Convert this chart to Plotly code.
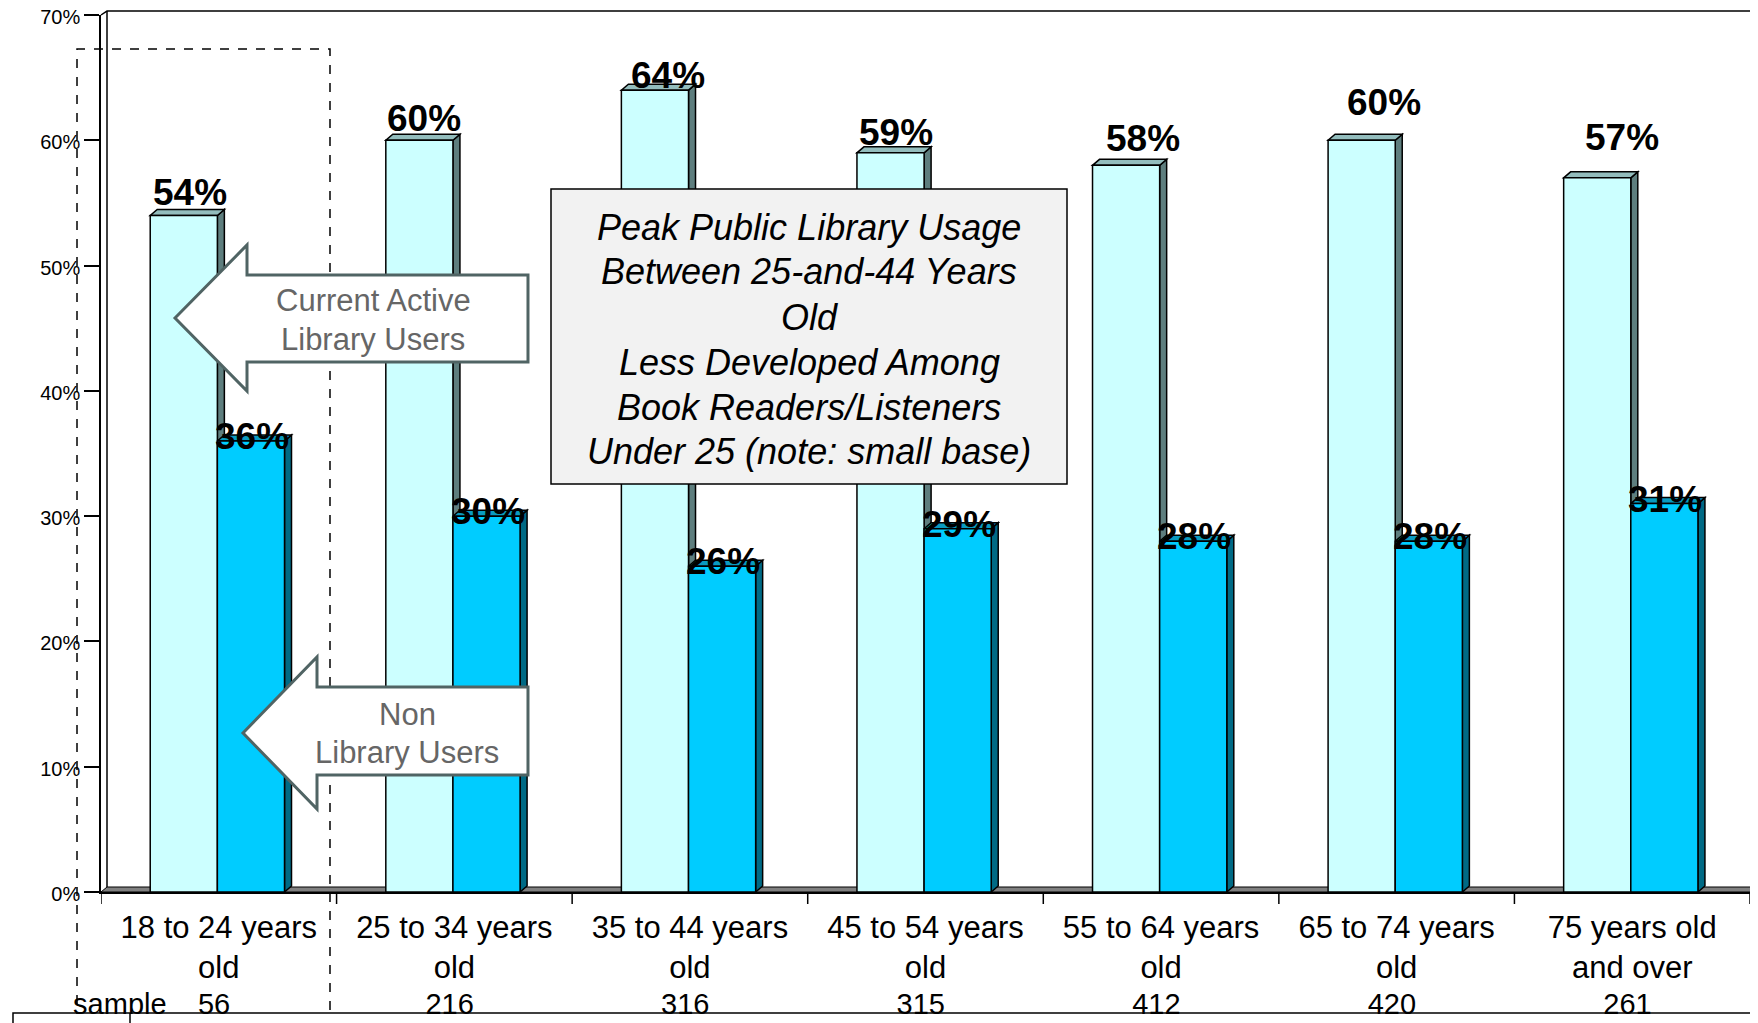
import plotly.graph_objects as go

categories = ["18 to 24 years<br>old", "25 to 34 years<br>old", "35 to 44 years<br>old",
              "45 to 54 years<br>old", "55 to 64 years<br>old", "65 to 74 years<br>old",
              "75 years old<br>and over"]
active_users = [54, 60, 64, 59, 58, 60, 57]
non_users = [36, 30, 26, 29, 28, 28, 31]
samples = [56, 216, 316, 315, 412, 420, 261]

box_lines = ["Peak Public Library Usage", "Between 25-and-44 Years", "Old",
             "Less Developed Among", "Book Readers/Listeners", "Under 25 (note: small base)"]

# label nudges (pixels) to mimic the original placement
active_dx = [6, 5, 13, 5, 17, 22, 25]
active_dy = [0, -1, -8, -2, 4, 15, 18]

# page has an 8px body margin, so the figure is drawn 8px in and down
OFF = 8
PW, PH = 1758, 1023
FW, FH = PW - OFF, PH - OFF
# plot area in page pixels
L, R, T, B = 101, 1750, 15, 892


def px(x):
    return (x - L) / (R - L)


def py(y):
    return (B - y) / (B - T)


def poly(points, close=True):
    p = "M " + " L ".join(f"{px(a):.5f},{py(b):.5f}" for a, b in points)
    return p + " Z" if close else p


bw = 0.285
shift = -0.006
dx = 7 / ((R - L) / 7)
dy = 6 / ((B - T) / 70)
xs = list(range(len(categories)))
x_act = [i - bw / 2 + shift for i in xs]
x_non = [i + bw / 2 + shift for i in xs]

fig = go.Figure()
fig.add_trace(go.Bar(x=x_act, y=active_users, width=bw, name="Current Active Library Users",
                     marker=dict(color="#CCFFFF", line=dict(color="black", width=1.5))))
fig.add_trace(go.Bar(x=x_non, y=non_users, width=bw, name="Non Library Users",
                     marker=dict(color="#00CCFF", line=dict(color="black", width=1.5))))
# invisible trace so the sample axis is drawn
fig.add_trace(go.Scatter(x=[-0.5, 6.5], y=[0, 0], xaxis="x2", mode="markers",
                         marker=dict(opacity=0), showlegend=False, hoverinfo="skip"))

line_k = dict(color="black", width=1.5)
shapes = []
# back wall and floor
shapes.append(dict(type="path", xref="paper", yref="paper", layer="below",
                   path=poly([(101, 15), (107, 11), (1770, 11)], close=False), line=line_k))
shapes.append(dict(type="path", xref="paper", yref="paper", layer="below",
                   path=poly([(107, 11), (107, 887)], close=False), line=line_k))
shapes.append(dict(type="path", xref="paper", yref="paper", layer="below",
                   path=poly([(1757, 11), (1757, 887)], close=False), line=line_k))
shapes.append(dict(type="path", xref="paper", yref="paper", layer="below",
                   path=poly([(101, 892), (1750, 892), (1757, 887), (107, 887)]),
                   fillcolor="#808080", line=dict(color="black", width=1)))


# 3D faces of the bars
def faces(xc, vals, top_col, side_col):
    out = []
    for x, v in zip(xc, vals):
        xl, xr = x - bw / 2, x + bw / 2
        out.append(dict(type="path", xref="x", yref="y", layer="below",
                        path=f"M {xr},0 L {xr + dx},{dy} L {xr + dx},{v + dy} L {xr},{v} Z",
                        fillcolor=side_col, line=line_k))
        out.append(dict(type="path", xref="x", yref="y", layer="below",
                        path=f"M {xl},{v} L {xr},{v} L {xr + dx},{v + dy} L {xl + dx},{v + dy} Z",
                        fillcolor=top_col, line=line_k))
    return out


shapes += faces(x_act, active_users, "#93BDBD", "#5E7E7E")
shapes += faces(x_non, non_users, "#0A9AC0", "#006A85")

# category boundary ticks
for i in range(len(categories) + 1):
    shapes.append(dict(type="line", xref="x", yref="paper", x0=i - 0.5, x1=i - 0.5,
                       y0=0, y1=-12 / (B - T), line=line_k))

# dashed highlight box
shapes.append(dict(type="path", xref="paper", yref="paper", layer="above",
                   path=poly([(77, 1040), (77, 49), (330, 49), (330, 1040)], close=False),
                   line=dict(color="black", width=1.5, dash="dash")))

# callout arrows
arrow_line = dict(color="#506464", width=3)
shapes.append(dict(type="path", xref="paper", yref="paper", layer="above",
                   path=poly([(175, 318), (247, 245), (247, 275), (528, 275), (528, 362),
                              (247, 362), (247, 391)]),
                   fillcolor="white", line=arrow_line))
shapes.append(dict(type="path", xref="paper", yref="paper", layer="above",
                   path=poly([(243, 733), (317, 657), (317, 687), (528, 687), (528, 775),
                              (317, 775), (317, 809)]),
                   fillcolor="white", line=arrow_line))

# text box
shapes.append(dict(type="rect", xref="paper", yref="paper", layer="above",
                   x0=px(551), x1=px(1067), y0=py(189), y1=py(484),
                   fillcolor="#F2F2F2", line=line_k))

# table edge at the bottom that clips the sample row
shapes.append(dict(type="rect", xref="paper", yref="paper", layer="above",
                   x0=px(0), x1=px(1770), y0=py(1014), y1=py(1040),
                   fillcolor="white", line=dict(width=0)))
shapes.append(dict(type="path", xref="paper", yref="paper", layer="above",
                   path=poly([(13, 1040), (13, 1013), (1755, 1013), (1755, 1040)], close=False),
                   line=line_k))
shapes.append(dict(type="path", xref="paper", yref="paper", layer="above",
                   path=poly([(130, 1013), (130, 1040)], close=False), line=line_k))

annotations = []
for i, v in enumerate(active_users):
    annotations.append(dict(x=x_act[i], y=v, xref="x", yref="y", text=f"<b>{v}%</b>",
                            showarrow=False, xanchor="center", yanchor="bottom",
                            xshift=active_dx[i], yshift=active_dy[i],
                            font=dict(size=37, color="black")))
for i, v in enumerate(non_users):
    annotations.append(dict(x=x_non[i], y=v, xref="x", yref="y", text=f"<b>{v}%</b>",
                            showarrow=False, xanchor="center", yanchor="bottom", xshift=1, yshift=-18,
                            font=dict(size=37, color="black")))


def text_lines(lines, cx, y0, step, size, color, italic=False):
    for k, s in enumerate(lines):
        annotations.append(dict(x=px(cx), y=py(y0 + k * step), xref="paper", yref="paper",
                                xanchor="center", yanchor="middle", showarrow=False,
                                text=f"<i>{s}</i>" if italic else s,
                                font=dict(size=size, color=color)))


text_lines(box_lines, 809, 227, 45, 36, "black", italic=True)
text_lines(["Current Active", "Library Users"], 373, 300, 39, 31, "#666666")
text_lines(["Non", "Library Users"], 407, 714, 38, 31, "#666666")

fig.update_layout(
    width=FW, height=FH, autosize=False,
    margin=dict(l=L - OFF, r=FW - (R - OFF), t=T - OFF, b=FH - (B - OFF), autoexpand=False),
    paper_bgcolor="white", plot_bgcolor="white",
    font=dict(family="Liberation Sans, Arial, sans-serif", color="black"),
    barmode="overlay", showlegend=False,
    shapes=shapes, annotations=annotations,
    xaxis=dict(range=[-0.5, 6.5], tickvals=xs, ticktext=categories, ticks="", automargin=False,
               showgrid=False, zeroline=False, showline=True, linecolor="black", linewidth=1.5,
               tickfont=dict(size=31), ticklabelstandoff=7, ticklabeloverflow="allow"),
    xaxis2=dict(range=[-0.5, 6.5], overlaying="x", anchor="y", side="bottom", automargin=False,
                tickvals=[-0.42] + [i - 0.02 for i in xs],
                ticktext=["sample"] + [str(s) for s in samples],
                ticks="", showgrid=False, zeroline=False, showline=False,
                tickfont=dict(size=29), ticklabelstandoff=92, ticklabeloverflow="allow"),
    yaxis=dict(range=[0, 70], tickvals=list(range(0, 71, 10)),
               ticktext=[f"{t}%" for t in range(0, 71, 10)], automargin=False,
               ticks="outside", ticklen=15, tickwidth=1.5, tickcolor="black",
               showgrid=False, zeroline=False, showline=True, linecolor="black", linewidth=1.5,
               tickfont=dict(size=20), ticklabeloverflow="allow", ticklabelshift=2),
)

fig.write_html("out.html")
